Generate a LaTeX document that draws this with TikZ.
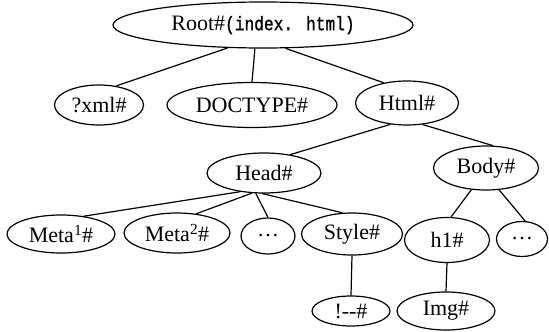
\documentclass[tikz,border=0pt]{standalone}
\usepackage{fontspec}
\setmainfont{Liberation Serif}
\newfontfamily\codefont[FakeStretch=0.83,FakeBold=1.2]{Liberation Mono}
\usetikzlibrary{shapes.geometric}

\begin{document}
\begin{tikzpicture}[x=1pt, y=-1pt, line width=1.2pt,
  elem/.style={draw, ellipse, inner sep=0pt, minimum height=40pt,
    font=\fontsize{22}{24}\selectfont}]
  \useasboundingbox (0,0) rectangle (549,332);
  % document tree
  \node[elem, minimum width=300pt, minimum height=46pt] (root) at (263,25)
    {Root\#{\codefont\fontsize{19.5}{22}\selectfont(index. html)}};
  \node[elem, minimum width=89pt]  (xml)     at (99,105)  {?xml\#};
  \node[elem, minimum width=170pt, minimum height=45pt] (doctype) at (252,105) {DOCTYPE\#};
  \node[elem, minimum width=103pt, minimum height=44pt] (html) at (407,103) {Html\#};
  \node[elem, minimum width=114pt] (head)    at (264,173) {Head\#};
  \node[elem, minimum width=105pt, minimum height=44pt] (body) at (486,168) {Body\#};
  \node[elem, minimum width=108pt, minimum height=38pt] (meta1) at (61,234) {Meta\textsuperscript{1}\#};
  \node[elem, minimum width=106pt] (meta2)   at (177,233) {Meta\textsuperscript{2}\#};
  \node[elem, minimum width=54pt, minimum height=36pt] (dotsa) at (268,236) {\dots};
  \node[elem, minimum width=101pt, minimum height=42pt] (style) at (352,234) {Style\#};
  \node[elem, minimum width=85pt, minimum height=45pt] (hone) at (447,240) {h1\#};
  \node[elem, minimum width=51pt, minimum height=35pt] (dotsb) at (522,239) {\dots};
  \node[elem, minimum width=78pt, minimum height=30pt] (cmt) at (351,311) {!-{}-\#};
  \node[elem, minimum width=98pt, minimum height=38pt] (img) at (446,311) {Img\#};

  \path
  (root.213) edge (xml.48)
  (root.251) edge (doctype.north)
  (root.314) edge (html.139)
  (html.232) edge (head.35)
  (html.306) edge (body.73)
  (head.218) edge (meta1.38)
  (head.239) edge (meta2.45)
  (head.248) edge (dotsa.north)
  (head.265) edge (style.114)
  (body.236) edge (hone.80)
  (body.301) edge (dotsb.80)
  (style.south) edge (cmt.north)
  (hone.south) edge (img.north)
  ;
\end{tikzpicture}
\end{document}
